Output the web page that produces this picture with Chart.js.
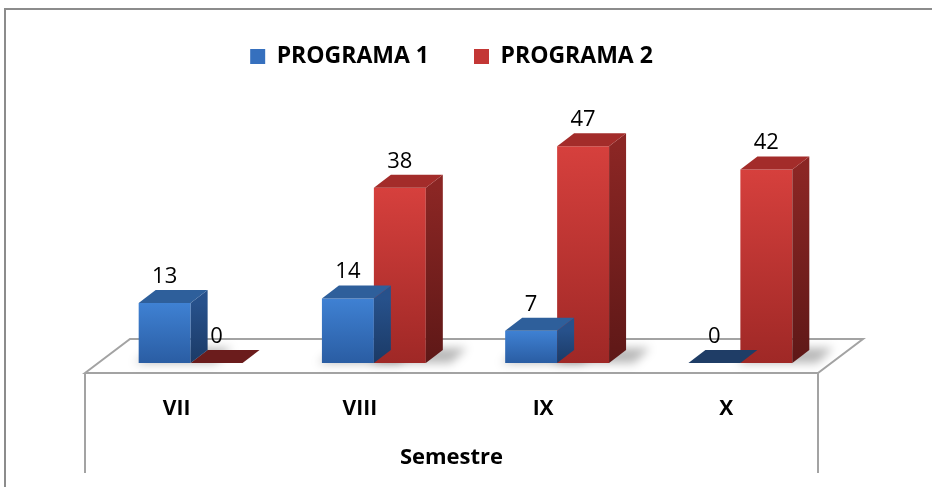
<!DOCTYPE html>
<html>
<head>
<meta charset="utf-8">
<title>Semestre</title>
<style>
  html, body { margin: 0; padding: 0; background: #fff; }
  #wrap { width: 932px; height: 487px; position: relative; }
</style>
<script src="https://cdn.jsdelivr.net/npm/chart.js@4.4.0/dist/chart.umd.min.js"></script>
</head>
<body>
<div id="wrap"><canvas id="semestreChart"></canvas></div>
<script>
// semestre chart - two programs, boxes drawn with a fake 3D look

const semestres = ['VII', 'VIII', 'IX', 'X'];
const programa1 = [13, 14, 7, 0];
const programa2 = [0, 38, 47, 42];
const seriesNames = ['PROGRAMA 1', 'PROGRAMA 2'];

Chart.defaults.font.family = "'Open Sans', Lato, sans-serif";
Chart.defaults.color = '#000';

// box depth, where the boxes stand on the floor, floor depth
const DEPTH_X = 17, DEPTH_Y = -13;
const STAND_X = 14, STAND_Y = -10;
const FLOOR_X = 45, FLOOR_Y = -34;

const palette = [
    { front: ['#3f81d3', '#2a5da3'], side: ['#27518b', '#1b3a66'], top: '#2e5f9b', flat: '#1f3d66', key: '#3670be' },
    { front: ['#d6403d', '#9f2826'], side: ['#8b2624', '#5e1817'], top: '#a32c2a', flat: '#6b1c1c', key: '#c33735' }
];

function frontFill(ctx) {
    const colors = palette[ctx.datasetIndex].front;
    const chart = ctx.chart;
    if (!chart.chartArea || ctx.type !== 'data') return colors[1];
    const y = chart.scales.y;
    const top = y.getPixelForValue(ctx.raw);
    const base = y.getPixelForValue(0);
    const g = chart.ctx.createLinearGradient(0, top, 0, Math.max(base, top + 1));
    g.addColorStop(0, colors[0]);
    g.addColorStop(1, colors[1]);
    return g;
}

function poly(ctx, pts, fill) {
    ctx.beginPath();
    ctx.moveTo(pts[0][0], pts[0][1]);
    for (let i = 1; i < pts.length; i++) ctx.lineTo(pts[i][0], pts[i][1]);
    ctx.closePath();
    ctx.fillStyle = fill;
    ctx.fill();
}

const box3d = {
    id: 'box3d',
    beforeDraw(chart) {
        // outer frame
        const ctx = chart.ctx;
        ctx.save();
        ctx.strokeStyle = '#8c8c8c';
        ctx.lineWidth = 2;
        ctx.strokeRect(5, 9, chart.width + 20, chart.height + 20);
        ctx.restore();
    },
    beforeDatasetsDraw(chart) {
        const ctx = chart.ctx;
        const { left, right, bottom } = chart.chartArea;

        // floor
        ctx.save();
        ctx.beginPath();
        ctx.moveTo(left, bottom);
        ctx.lineTo(left + FLOOR_X, bottom + FLOOR_Y);
        ctx.lineTo(right + FLOOR_X, bottom + FLOOR_Y);
        ctx.lineTo(right, bottom);
        ctx.closePath();
        ctx.fillStyle = '#fff';
        ctx.fill();
        ctx.strokeStyle = '#a3a3a3';
        ctx.lineWidth = 2;
        ctx.stroke();
        ctx.beginPath();
        ctx.moveTo(left, bottom);
        ctx.lineTo(left, 473);
        ctx.moveTo(right, bottom);
        ctx.lineTo(right, 473);
        ctx.stroke();

        // soft shadows behind the boxes
        ctx.translate(STAND_X, STAND_Y);
        ctx.filter = 'blur(5px)';
        ctx.fillStyle = 'rgba(0, 0, 0, 0.28)';
        chart.data.datasets.forEach((ds, di) => {
            chart.getDatasetMeta(di).data.forEach((bar, i) => {
                if (!ds.data[i]) return;
                const { x, base, width } = bar.getProps(['x', 'base', 'width'], true);
                const x0 = x - width / 2, x1 = x + width / 2;
                ctx.beginPath();
                ctx.moveTo(x0 - 4, base);
                ctx.lineTo(x1 + DEPTH_X + 8, base);
                ctx.lineTo(x1 + DEPTH_X + 24, base + DEPTH_Y - 2);
                ctx.lineTo(x0 + DEPTH_X, base + DEPTH_Y - 2);
                ctx.closePath();
                ctx.fill();
            });
        });
        ctx.restore();
    },
    beforeDatasetDraw(chart) {
        chart.ctx.save();
        chart.ctx.translate(STAND_X, STAND_Y);
    },
    afterDatasetDraw(chart, args) {
        const ctx = chart.ctx;
        const c = palette[args.index];
        const values = chart.data.datasets[args.index].data;
        args.meta.data.forEach((bar, i) => {
            const { x, y, base, width } = bar.getProps(['x', 'y', 'base', 'width'], true);
            const x0 = x - width / 2, x1 = x + width / 2;
            if (base - y < 0.5) {
                // empty value: only the lid on the floor
                poly(ctx, [[x0, base], [x1, base], [x1 + DEPTH_X, base + DEPTH_Y], [x0 + DEPTH_X, base + DEPTH_Y]], c.flat);
            } else {
                const g = ctx.createLinearGradient(0, y, 0, base);
                g.addColorStop(0, c.side[0]);
                g.addColorStop(1, c.side[1]);
                poly(ctx, [[x1, y], [x1 + DEPTH_X, y + DEPTH_Y], [x1 + DEPTH_X, base + DEPTH_Y], [x1, base]], g);
                poly(ctx, [[x0, y], [x1, y], [x1 + DEPTH_X, y + DEPTH_Y], [x0 + DEPTH_X, y + DEPTH_Y]], c.top);
            }
            ctx.fillStyle = '#000';
            ctx.font = "400 22px 'Open Sans', Lato, sans-serif";
            ctx.textAlign = 'center';
            ctx.textBaseline = 'alphabetic';
            ctx.fillText(String(values[i]), x, y - 20);
        });
        ctx.restore();
    }
};

new Chart(document.getElementById('semestreChart'), {
    type: 'bar',
    data: {
        labels: semestres,
        datasets: [
            { label: seriesNames[0], data: programa1, backgroundColor: frontFill, clip: false },
            { label: seriesNames[1], data: programa2, backgroundColor: frontFill, clip: false }
        ]
    },
    options: {
        responsive: true,
        maintainAspectRatio: false,
        animation: false,
        categoryPercentage: 0.567,
        barPercentage: 1,
        borderWidth: 0,
        layout: { padding: { left: 85, right: 114, top: 0, bottom: 16 } },
        plugins: {
            tooltip: { enabled: false },
            legend: {
                position: 'top',
                labels: {
                    boxWidth: 15,
                    boxHeight: 15,
                    padding: 45,
                    font: { size: 23, weight: 'bold', lineHeight: 1.2 },
                    generateLabels(chart) {
                        return chart.data.datasets.map((ds, i) => ({
                            text: ds.label,
                            fillStyle: palette[i].key,
                            strokeStyle: palette[i].key,
                            lineWidth: 0,
                            hidden: false,
                            datasetIndex: i
                        }));
                    }
                }
            }
        },
        scales: {
            x: {
                grid: { display: false, drawTicks: false },
                border: { display: false },
                ticks: {
                    padding: 23.2,
                    font: { size: 21, weight: 'bold', lineHeight: 1.2 }
                },
                title: {
                    display: true,
                    text: 'Semestre',
                    padding: 0,
                    font: { size: 22, weight: 'bold', lineHeight: 1.2 }
                }
            },
            y: { display: false, min: 0, max: 64 }
        }
    },
    plugins: [box3d]
});
</script>
</body>
</html>
